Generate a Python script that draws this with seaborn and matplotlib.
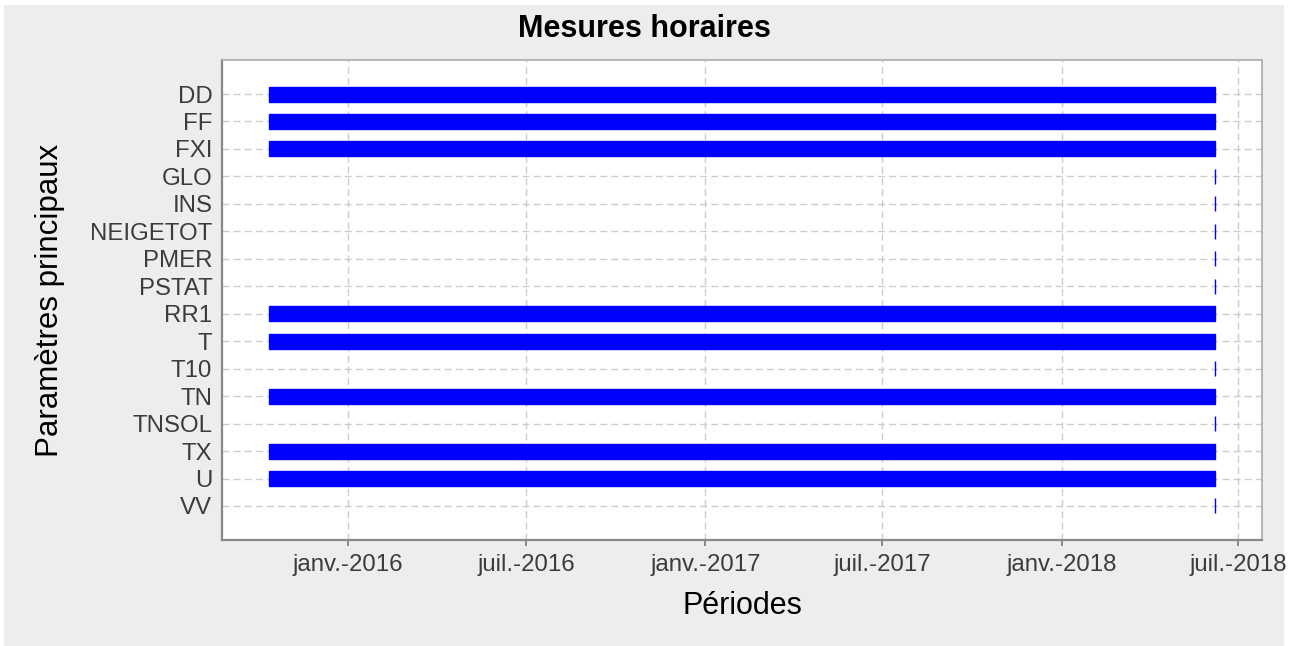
import matplotlib
matplotlib.use("Agg")
import matplotlib.pyplot as plt
import matplotlib.dates as mdates
from matplotlib.patches import Rectangle
import numpy as np
import pandas as pd
import seaborn as sns

# Parameters and their measurement periods
parametres = ["DD", "FF", "FXI", "GLO", "INS", "NEIGETOT", "PMER", "PSTAT",
              "RR1", "T", "T10", "TN", "TNSOL", "TX", "U", "VV"]
debut = ["2015-10-12", "2015-10-12", "2015-10-12", "2018-06-07", "2018-06-07",
         "2018-06-07", "2018-06-07", "2018-06-07", "2015-10-12", "2015-10-12",
         "2018-06-07", "2015-10-12", "2018-06-07", "2015-10-12", "2015-10-12",
         "2018-06-07"]
fin = ["2018-06-07"] * 16

tick_dates = ["2016-01-01", "2016-07-01", "2017-01-01",
              "2017-07-01", "2018-01-01", "2018-07-01"]
tick_labels = ["janv.-2016", "juil.-2016", "janv.-2017",
               "juil.-2017", "janv.-2018", "juil.-2018"]

df = pd.DataFrame({
    "parametre": parametres,
    "debut": pd.to_datetime(debut),
    "fin": pd.to_datetime(fin),
})

sns.set_theme(style="whitegrid")
plt.rcParams["font.family"] = ["Liberation Sans", "DejaVu Sans"]

fig = plt.figure(figsize=(12.98, 6.46), dpi=100, facecolor="white")
# light grey panel behind the plot
fig.patches.append(Rectangle((4 / 1298, 0), 1280 / 1298, 1 - 5 / 646,
                             transform=fig.transFigure, facecolor="#EDEDED",
                             edgecolor="none", zorder=-10))

ax = fig.add_axes([222 / 1298, 1 - 540 / 646, 1040 / 1298, 480 / 646])
ax.set_facecolor("white")

ypos = np.arange(len(df))
x0 = mdates.date2num(df["debut"])
x1 = mdates.date2num(df["fin"])
ax.barh(ypos, x1 - x0, left=x0, height=0.546, color="#0000FF",
        edgecolor="#0000FF", linewidth=1.0, zorder=3)

# date range with 5% padding
span = x1.max() - x0.min()
ax.set_xlim(x0.min() - 0.05 * span, x1.max() + 0.05 * span)
ax.set_ylim(len(df) - 1 + 1.238, -1.238)

ax.set_yticks(ypos)
ax.set_yticklabels(df["parametre"])
ax.set_xticks(mdates.date2num(pd.to_datetime(tick_dates)))
ax.set_xticklabels(tick_labels)

ax.grid(True, color="#CCCCCC", linestyle=(0, (5, 3)), linewidth=1.0, zorder=0)
ax.set_axisbelow(True)

for side in ["left", "bottom"]:
    ax.spines[side].set_color("#888888")
    ax.spines[side].set_linewidth(1.6)
for side in ["top", "right"]:
    ax.spines[side].set_color("#AAAAAA")
    ax.spines[side].set_linewidth(1.2)

ax.tick_params(axis="x", which="both", bottom=True, length=4, width=1.4,
               color="#888888", labelsize=17.3, labelcolor="#3C3C3C", pad=6)
ax.tick_params(axis="y", which="both", left=False, length=0,
               labelsize=17.3, labelcolor="#3C3C3C", pad=7)

ax.set_xlabel("Périodes", fontsize=22, color="black", labelpad=11)
ax.set_ylabel("Paramètres principaux", fontsize=22.5, color="black", labelpad=18)

fig.text(644 / 1298, 1 - 29 / 646, "Mesures horaires", ha="center",
         va="center", fontsize=22, fontweight="bold", color="black")

fig.savefig("out.png", dpi=100, facecolor="white")
